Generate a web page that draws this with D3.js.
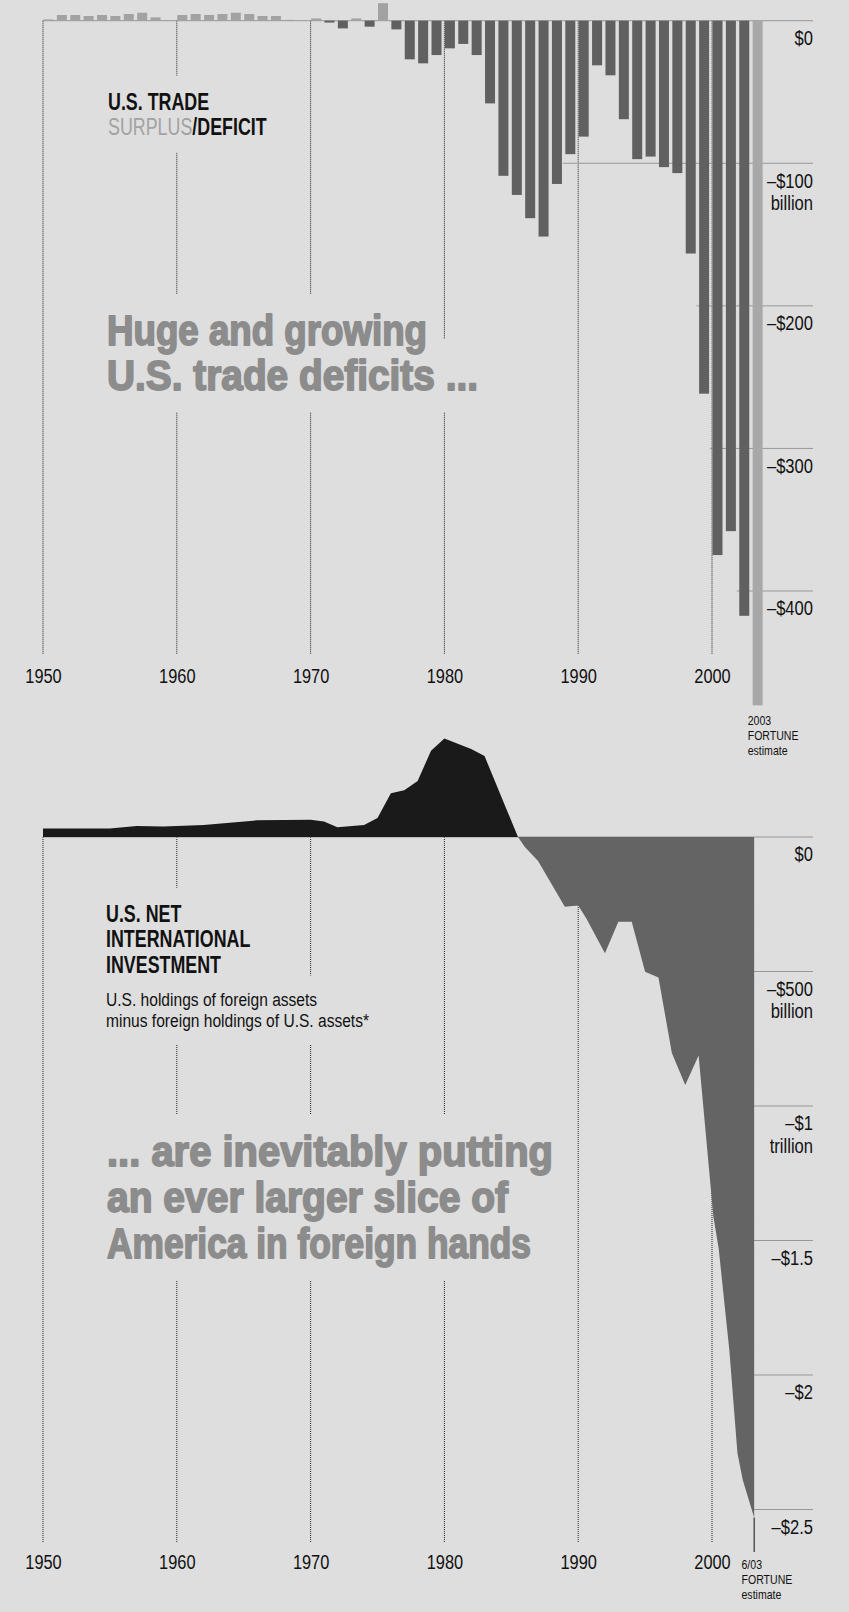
<!DOCTYPE html>
<html>
<head>
<meta charset="utf-8">
<script src="https://cdn.jsdelivr.net/npm/d3@7"></script>
<style>
  html, body { margin: 0; padding: 0; background: #dedede; }
  svg { display: block; }
</style>
</head>
<body>
<svg id="chart"></svg>
<script>
// U.S. trade surplus/deficit, goods and services, $ billions (2003 = FORTUNE estimate)
const tradeYears = d3.range(1950, 2004);
const tradeValues = [
  0.9, 4.0, 4.0, 3.3, 4.0, 3.3, 4.7, 5.6, 2.3, 0.5,
  4.0, 4.7, 4.0, 4.7, 5.6, 4.7, 3.3, 3.3, 0.6, 0.3,
  1.6, -1.3, -5.4, 1.6, -4.2, 12.3, -6.1, -27.1, -29.9, -24.1,
  -19.4, -16.3, -24.1, -58.0, -108.8, -122.2, -138.5, -151.4, -114.5, -93.6,
  -81.3, -31.3, -38.3, -69.1, -97.1, -95.3, -102.7, -106.9, -163.3, -261.6,
  -374.8, -358.0, -417.4, -480.2
];
const estimateYear = 2003;

// U.S. net international investment position, $ billions (last point = 6/03 estimate)
const niiYears = [
  1950, 1955, 1957, 1959, 1962, 1966, 1970, 1971, 1972, 1974,
  1975, 1976, 1977, 1978, 1979, 1980, 1982, 1983, 1985.5, 1986,
  1987, 1989, 1990, 1990.6, 1992, 1993, 1994, 1995, 1996, 1997,
  1998, 1999, 2000.1, 2000.5, 2001.3, 2001.9, 2002.3, 2003.15
];
const niiValues = [
  32, 32, 41, 39, 45, 62, 64, 58, 36, 45,
  71, 163, 174, 208, 321, 366, 327, 301, 0, -36,
  -89, -259, -255, -302, -432, -315, -315, -501, -522, -803,
  -922, -812, -1410, -1530, -1910, -2290, -2390, -2530
];

const decades = [1950, 1960, 1970, 1980, 1990, 2000];

const topTicks = [0, -100, -200, -300, -400];
const topTickLabels = ["$0", "\u2013$100", "\u2013$200", "\u2013$300", "\u2013$400"];
const topTickUnits = ["", "billion", "", "", ""];
const topGridFrom = [1950, 1989, 1999, 2000, 2002];

const botTicks = [0, -500, -1000, -1500, -2000, -2500];
const botTickLabels = ["$0", "\u2013$500", "\u2013$1", "\u2013$1.5", "\u2013$2", "\u2013$2.5"];
const botTickUnits = ["", "billion", "trillion", "", "", ""];

const topHeadline = ["Huge and growing", "U.S. trade deficits ..."];
const botHeadline = ["... are inevitably putting", "an ever larger slice of", "America in foreign hands"];

// ---- look ----
const W = 849, H = 1612;
const BG = "#dedede", INK = "#111", DEFICIT = "#606060", SURPLUS = "#a2a2a2",
      EST = "#a8a8a8", POS = "#1a1a1a", NEG = "#646464", HEAD = "#8c8c8c", HGRID = "#979797";
const FONT = "'Liberation Sans', Arial, sans-serif";
const SX = 0.78;      // condensed look for year labels
const SXV = 0.85;     // condensed value labels
const SXB = 0.776;    // condensed bold titles

const x = d3.scaleLinear().domain([1950, 2000]).range([43, 712]);
const yTop = d3.scaleLinear().domain([0, -400]).range([20.7, 591]);
const yBot = d3.scaleLinear().domain([0, -2500]).range([837, 1509.5]);
const gridRight = 813;
const barW = 10;

const svg = d3.select("#chart")
  .attr("width", W).attr("height", H)
  .attr("viewBox", `0 0 ${W} ${H}`);

svg.append("rect").attr("width", W).attr("height", H).attr("fill", BG);
const gGrid = svg.append("g");
const gKnock = svg.append("g");
const gMarks = svg.append("g");
const gText = svg.append("g").attr("font-family", FONT);

// ---- grid ----
function vGrid(y1, y2) {
  gGrid.append("g").selectAll("line").data(decades).join("line")
    .attr("x1", d => x(d)).attr("x2", d => x(d))
    .attr("y1", y1).attr("y2", y2)
    .attr("stroke", "#222").attr("stroke-width", 1)
    .attr("stroke-dasharray", "1,1");
}
vGrid(yTop(0), 654);
vGrid(yBot(0), 1542);

gGrid.append("g").selectAll("line").data(topTicks).join("line")
  .attr("x1", (d, i) => i === 0 ? x(1950) : x(topGridFrom[i]) - 2)
  .attr("x2", gridRight)
  .attr("y1", d => yTop(d)).attr("y2", d => yTop(d))
  .attr("stroke", HGRID).attr("stroke-width", 1);

gGrid.append("g").selectAll("line").data(botTicks).join("line")
  .attr("x1", (d, i) => i === 0 ? x(1950) : x(2003))
  .attr("x2", gridRight)
  .attr("y1", d => yBot(d)).attr("y2", d => yBot(d))
  .attr("stroke", HGRID).attr("stroke-width", 1);

// ---- marks ----
const trade = tradeYears.map((yr, i) => ({ yr, v: tradeValues[i] }));
gMarks.append("g").selectAll("rect").data(trade).join("rect")
  .attr("x", d => x(d.yr) + 0.5)
  .attr("width", barW)
  .attr("y", d => yTop(Math.max(0, d.v)))
  .attr("height", d => Math.abs(yTop(d.v) - yTop(0)))
  .attr("fill", d => d.yr === estimateYear ? EST : (d.v >= 0 ? SURPLUS : DEFICIT));

const nii = niiYears.map((yr, i) => ({ yr, v: niiValues[i] }));
const cross = nii.findIndex(d => d.v === 0);
const area = d3.area().x(d => x(d.yr)).y0(yBot(0)).y1(d => yBot(d.v));
gMarks.append("path").datum(nii.slice(0, cross + 1)).attr("d", area).attr("fill", POS);
gMarks.append("path").datum(nii.slice(cross)).attr("d", area).attr("fill", NEG);

const last = nii[nii.length - 1];
gMarks.append("line")
  .attr("x1", x(last.yr)).attr("x2", x(last.yr))
  .attr("y1", yBot(last.v)).attr("y2", 1552)
  .attr("stroke", INK).attr("stroke-width", 1);

// ---- axes ----
function yearAxis(y) {
  const g = gText.append("g").attr("transform", `translate(0,${y})`)
    .call(d3.axisBottom(x).tickValues(decades).tickFormat(d3.format("d")).tickSize(0));
  g.select(".domain").remove();
  g.selectAll("text")
    .attr("y", 0).attr("dy", 0)
    .attr("font-family", FONT).attr("font-size", 21).attr("fill", INK)
    .attr("transform", `scale(${SX},1)`);
}
yearAxis(683);
yearAxis(1569);

function valueAxis(scale, ticks, labels, units) {
  const g = gText.append("g").attr("transform", `translate(${gridRight},0)`)
    .call(d3.axisLeft(scale).tickValues(ticks).tickFormat((d, i) => labels[i]).tickSize(0).tickPadding(0));
  g.select(".domain").remove();
  g.selectAll(".tick text")
    .attr("x", 0).attr("y", 24).attr("dy", 0)
    .attr("font-family", FONT).attr("font-size", 19.5).attr("fill", INK)
    .attr("transform", `scale(${SXV},1)`);
  // unit line under the amount
  g.selectAll(".tick").each(function (d, i) {
    if (!units[i]) return;
    d3.select(this).append("text")
      .attr("x", 0).attr("y", 46.5)
      .attr("text-anchor", "end")
      .attr("font-family", FONT).attr("font-size", 19.5).attr("fill", INK)
      .attr("transform", `scale(${SXV},1)`)
      .text(units[i]);
  });
}
valueAxis(yTop, topTicks, topTickLabels, topTickUnits);
valueAxis(yBot, botTicks, botTickLabels, botTickUnits);

// ---- text ----
function lines(x0, ys, strs, size, sx, fill, weight) {
  return strs.map((s, i) => gText.append("text")
    .attr("transform", `translate(${x0},${ys[i]}) scale(${sx},1)`)
    .attr("font-size", size).attr("font-weight", weight || "normal")
    .attr("fill", fill || INK).text(s));
}

lines(747.7, [725, 740, 755], ["2003", "FORTUNE", "estimate"], 13.2, 0.8);
lines(741.5, [1569, 1584, 1599], ["6/03", "FORTUNE", "estimate"], 13.2, 0.8);

const knock = [];

knock.push(...lines(108, [110], ["U.S. TRADE"], 23, SXB, INK, "bold"));
const sd = gText.append("text")
  .attr("transform", `translate(108,135) scale(${SXB},1)`)
  .attr("font-size", 23);
sd.append("tspan").attr("fill", SURPLUS).text("SURPLUS");
sd.append("tspan").attr("fill", INK).attr("font-weight", "bold").text("/DEFICIT");
knock.push(sd);

knock.push(...lines(106, [922, 947, 973], ["U.S. NET", "INTERNATIONAL", "INVESTMENT"], 23, SXB, INK, "bold"));
knock.push(...lines(106, [1006, 1027],
  ["U.S. holdings of foreign assets", "minus foreign holdings of U.S. assets*"], 19, 0.82));

function headline(ys, strs, widths) {
  return strs.map((s, i) => gText.append("text")
    .attr("x", 107).attr("y", ys[i])
    .attr("font-size", 42).attr("font-weight", "bold")
    .attr("fill", HEAD).attr("stroke", HEAD).attr("stroke-width", 1.8)
    .attr("stroke-linejoin", "round")
    .attr("textLength", widths[i]).attr("lengthAdjust", "spacingAndGlyphs")
    .text(s));
}
knock.push(...headline([345, 390], topHeadline, [320, 371]));
knock.push(...headline([1166, 1212, 1258], botHeadline, [446, 401, 424]));

// knock the dotted year lines out behind the text blocks
const origin = svg.node().getBoundingClientRect();
knock.forEach(t => {
  const b = t.node().getBoundingClientRect();
  gKnock.append("rect")
    .attr("x", b.left - origin.left - 6).attr("y", b.top - origin.top - 13)
    .attr("width", b.width + 12).attr("height", b.height + 26)
    .attr("fill", BG);
});
</script>
</body>
</html>
